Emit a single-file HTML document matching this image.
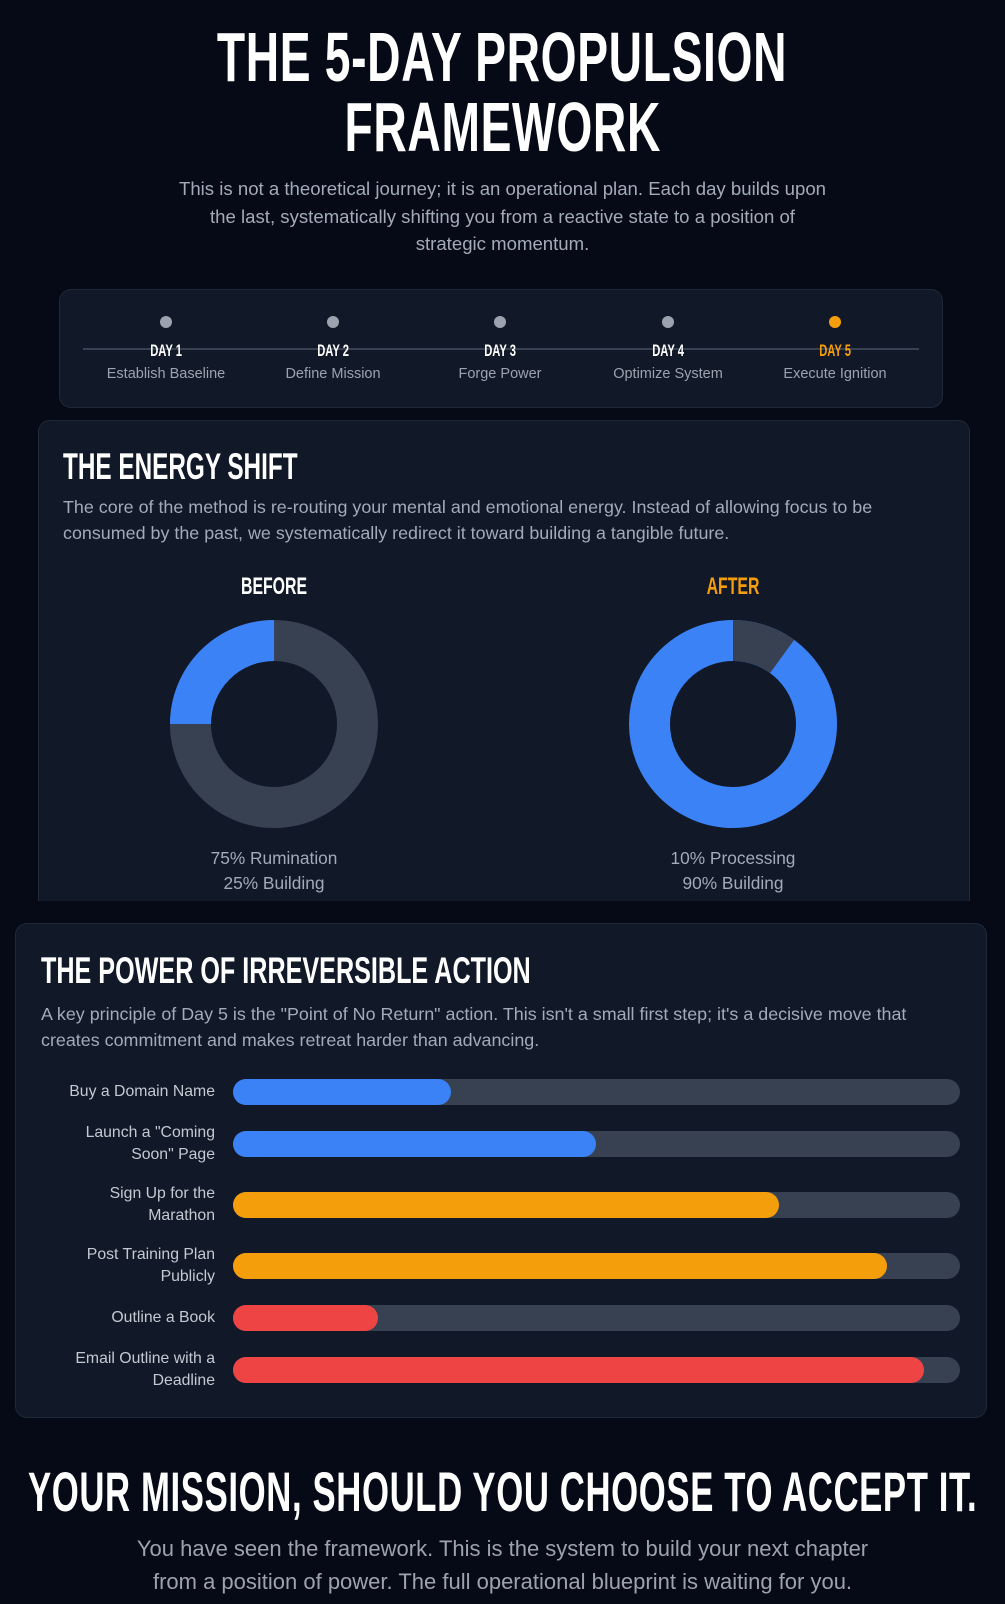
<!DOCTYPE html>
<html><head><meta charset="utf-8"><style>
*{margin:0;padding:0;box-sizing:border-box}
body{width:1005px;height:1604px;background:#050a16;font-family:"Liberation Sans",sans-serif;position:relative;overflow:hidden;color:#fff}
.h{font-family:"Liberation Sans",sans-serif;font-weight:bold;position:absolute;white-space:nowrap}
.t{position:absolute;white-space:nowrap}
.panel{position:absolute;background:#111827;border:1px solid #1f2937;border-radius:12px}
.c{text-align:center}
.sx{display:inline-block;transform:scaleX(0.66);transform-origin:center}
.sl{display:inline-block;transform:scaleX(0.68);transform-origin:left}
</style></head><body>
<div class="h c" style="left:0;width:1005px;top:22px;font-size:70px;line-height:70px"><span class="sx" style="letter-spacing:1px">THE 5-DAY PROPULSION</span><br><span class="sx" style="letter-spacing:1px">FRAMEWORK</span></div>
<div class="t c" style="left:0;width:1005px;top:175px;font-size:18.6px;line-height:27.5px;color:#a3abb9">This is not a theoretical journey; it is an operational plan. Each day builds upon<br>the last, systematically shifting you from a reactive state to a position of<br>strategic momentum.</div>

<div class="panel" style="left:59px;top:289px;width:884px;height:119px"></div>
<div style="position:absolute;left:83px;top:348px;width:836px;height:2px;background:#374151"></div>
<div id="days"></div>

<div class="panel" style="left:38px;top:420px;width:932px;height:500px;border-bottom:none;border-radius:12px 12px 0 0"></div>
<div style="position:absolute;left:0;top:901px;width:1005px;height:20px;background:#050a16"></div>
<div class="h" style="left:63px;top:446px;font-size:37px"><span class="sl" style="transform:scaleX(0.657)">THE ENERGY SHIFT</span></div>
<div class="t" style="left:63px;top:495px;font-size:17.9px;line-height:25.5px;color:#a3abb9">The core of the method is re-routing your mental and emotional energy. Instead of allowing focus to be<br>consumed by the past, we systematically redirect it toward building a tangible future.</div>
<div class="h c" style="left:174px;width:200px;top:573px;font-size:24px"><span class="sx">BEFORE</span></div>
<div class="h c" style="left:633px;width:200px;top:573px;font-size:24px;color:#f59e0b"><span class="sx">AFTER</span></div>
<svg style="position:absolute;left:0;top:0" width="1005" height="920">
<circle cx="274" cy="724" r="83.5" fill="none" stroke="#374151" stroke-width="41"/>
<circle cx="274" cy="724" r="83.5" fill="none" stroke="#3b82f6" stroke-width="41" stroke-dasharray="131.2 1000" transform="rotate(180 274 724)"/>
<circle cx="733" cy="724" r="83.5" fill="none" stroke="#3b82f6" stroke-width="41"/>
<circle cx="733" cy="724" r="83.5" fill="none" stroke="#374151" stroke-width="41" stroke-dasharray="52.5 1000" transform="rotate(-90 733 724)"/>
</svg>
<div class="t c" style="left:154px;width:240px;top:846px;font-size:17.3px;line-height:25px;color:#a3abb9">75% Rumination<br>25% Building</div>
<div class="t c" style="left:613px;width:240px;top:846px;font-size:17.3px;line-height:25px;color:#a3abb9">10% Processing<br>90% Building</div>

<div class="panel" style="left:15px;top:923px;width:972px;height:495px"></div>
<div class="h" style="left:41px;top:950px;font-size:37px"><span class="sl">THE POWER OF IRREVERSIBLE ACTION</span></div>
<div class="t" style="left:41px;top:1002px;font-size:17.9px;line-height:25.5px;color:#a3abb9">A key principle of Day 5 is the "Point of No Return" action. This isn't a small first step; it's a decisive move that<br>creates commitment and makes retreat harder than advancing.</div>
<div id="bars"></div>

<div class="h c" style="left:-300px;width:1605px;top:1459px;font-size:56px"><span class="sx" style="transform:scaleX(0.62);letter-spacing:1px">YOUR MISSION, SHOULD YOU CHOOSE TO ACCEPT IT.</span></div>
<div class="t c" style="left:0;width:1005px;top:1533px;font-size:22px;line-height:32.5px;color:#9ca3af">You have seen the framework. This is the system to build your next chapter<br>from a position of power. The full operational blueprint is waiting for you.</div>
<script>
var d=[["DAY 1","Establish Baseline",166],["DAY 2","Define Mission",333],["DAY 3","Forge Power",500],["DAY 4","Optimize System",668],["DAY 5","Execute Ignition",835]],h="";
d.forEach(function(x,i){var col=i==4?"#f59e0b":"#fff";
h+='<div style="position:absolute;left:'+(x[2]-6)+'px;top:316px;width:12px;height:12px;border-radius:50%;background:'+(i==4?"#f59e0b":"#9ca3af")+'"></div>';
h+='<div class="h c" style="left:'+(x[2]-80)+'px;width:160px;top:341px;font-size:17px;color:'+col+'"><span class="sx">'+x[0]+'</span></div>';
h+='<div class="t c" style="left:'+(x[2]-90)+'px;width:180px;top:366px;font-size:14.5px;color:#9ca3af">'+x[1]+'</div>';});
document.getElementById("days").innerHTML=h;
var b=[["Buy a Domain Name",1092,218,"#3b82f6"],["Launch a \"Coming<br>Soon\" Page",1144,363,"#3b82f6"],["Sign Up for the<br>Marathon",1205,546,"#f59e0b"],["Post Training Plan<br>Publicly",1266,654,"#f59e0b"],["Outline a Book",1318,145,"#ef4444"],["Email Outline with a<br>Deadline",1370,691,"#ef4444"]];h="";
b.forEach(function(x){h+='<div style="position:absolute;left:233px;top:'+(x[1]-13)+'px;width:727px;height:26px;border-radius:13px;background:#374151"></div>';
h+='<div style="position:absolute;left:233px;top:'+(x[1]-13)+'px;width:'+x[2]+'px;height:26px;border-radius:13px;background:'+x[3]+'"></div>';
var two=x[0].indexOf("<br>")>0;
h+='<div class="t" style="right:790px;text-align:right;top:'+(x[1]-(two?22:11))+'px;font-size:15.8px;line-height:22px;color:#c4c9d2">'+x[0]+'</div>';});
document.getElementById("bars").innerHTML=h;
</script>
</body></html>
